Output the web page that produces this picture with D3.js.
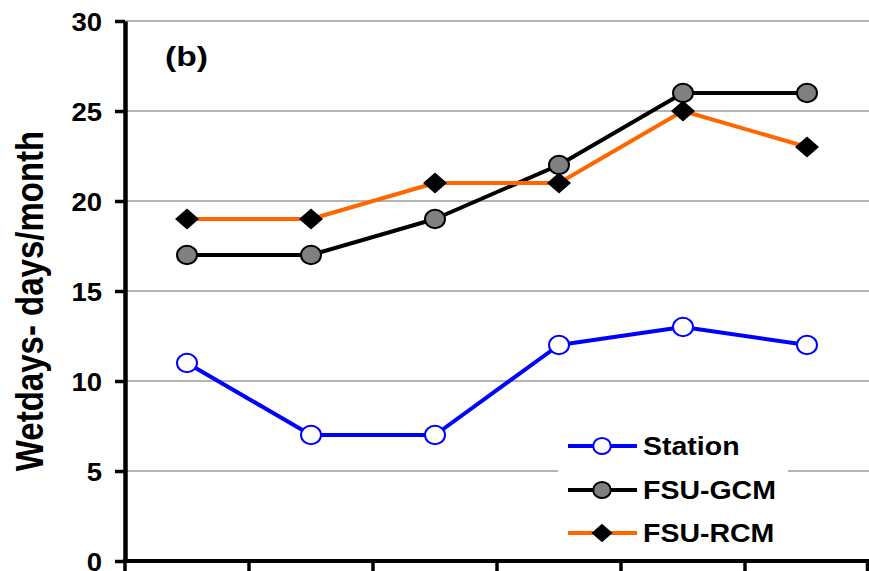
<!DOCTYPE html>
<html>
<head>
<meta charset="utf-8">
<script src="https://cdn.jsdelivr.net/npm/d3@7"></script>
<style>
  html, body { margin: 0; padding: 0; background: #fff; }
  svg { display: block; font-family: "Liberation Sans", Arial, sans-serif; }
</style>
</head>
<body>
<svg id="chart" width="869" height="571"></svg>
<script>
// Six periods along the x axis (unlabelled)
const periods = ["P1", "P2", "P3", "P4", "P5", "P6"];
const yTicks = [0, 5, 10, 15, 20, 25, 30];

const station = [11, 7, 7, 12, 13, 12];
const fsuGcm  = [17, 17, 19, 22, 26, 26];
const fsuRcm  = [19, 19, 21, 21, 25, 23];

const seriesNames = ["Station", "FSU-GCM", "FSU-RCM"];

const svg = d3.select("#chart");
const plotLeft = 125, plotRight = 869, plotTop = 21, plotBottom = 561;
const stretch = 1.1; // tick labels are drawn slightly wide

const x = d3.scaleBand().domain(periods).range([plotLeft, plotRight]);
const y = d3.scaleLinear().domain([0, 30]).range([plotBottom, plotTop]);

// horizontal gridlines
svg.append("g")
  .selectAll("line")
  .data(yTicks.filter(t => t > 0))
  .join("line")
  .attr("x1", plotLeft).attr("x2", plotRight)
  .attr("y1", d => y(d)).attr("y2", d => y(d))
  .attr("stroke", "#6a6a6a").attr("stroke-width", 1);

// legend background (sits over the gridline)
svg.append("rect")
  .attr("x", 558).attr("y", 425).attr("width", 230).attr("height", 130)
  .attr("fill", "#fff");

// y axis
const yAxis = d3.axisLeft(y).tickValues(yTicks).tickSize(10).tickSizeOuter(0);
const gy = svg.append("g").attr("transform", `translate(${plotLeft},0)`).call(yAxis);
gy.select(".domain").attr("stroke", "#000").attr("stroke-width", 4.5);
gy.selectAll(".tick line").attr("stroke", "#000").attr("stroke-width", 3.5);
gy.selectAll(".tick text")
  .attr("x", -23 / stretch)
  .attr("dy", "0.36em")
  .attr("transform", `scale(${stretch},1)`)
  .attr("font-size", 25).attr("font-weight", "bold").attr("fill", "#000")
  .attr("font-family", "Liberation Sans, Arial, sans-serif");

// x axis with tick marks at the category boundaries
const gx = svg.append("g");
gx.append("line")
  .attr("x1", plotLeft - 2).attr("x2", plotRight)
  .attr("y1", plotBottom).attr("y2", plotBottom)
  .attr("stroke", "#000").attr("stroke-width", 4);
const bounds = periods.map(p => x(p)).concat([x(periods[periods.length - 1]) + x.bandwidth()]);
gx.selectAll("line.xt")
  .data(bounds)
  .join("line").attr("class", "xt")
  .attr("x1", d => Math.min(d, plotRight - 1.5)).attr("x2", d => Math.min(d, plotRight - 1.5))
  .attr("y1", plotBottom).attr("y2", plotBottom + 10)
  .attr("stroke", "#000").attr("stroke-width", 3.5);

// y axis title
svg.append("text")
  .attr("transform", `translate(43,301) scale(1.17,1) rotate(-90)`)
  .attr("text-anchor", "middle")
  .attr("font-size", 33).attr("font-weight", "bold")
  .text("Wetdays- days/month");

// panel label
svg.append("text")
  .attr("transform", "translate(165,66) scale(1.2,1)")
  .attr("font-size", 28).attr("font-weight", "bold")
  .text("(b)");

const cx = i => x(periods[i]) + x.bandwidth() / 2;
const line = d3.line().x((d, i) => cx(i)).y(d => y(d));

const styles = [
  { data: station, line: "#0000ff", marker: "circle", fill: "#fff", stroke: "#0000ff" },
  { data: fsuGcm,  line: "#000000", marker: "circle", fill: "#808080", stroke: "#000" },
  { data: fsuRcm,  line: "#ff6600", marker: "diamond", fill: "#000", stroke: "#000" }
];

function drawMarker(g, s, px, py, k) {
  if (s.marker === "circle") {
    g.append("ellipse").attr("cx", px).attr("cy", py).attr("rx", 10 * k).attr("ry", 9.2 * k)
      .attr("fill", s.fill).attr("stroke", s.stroke).attr("stroke-width", 2);
  } else {
    const rx = 12 * k, ry = 10.5 * k;
    g.append("path")
      .attr("d", `M${px},${py - ry}L${px + rx},${py}L${px},${py + ry}L${px - rx},${py}Z`)
      .attr("fill", s.fill);
  }
}

// draw series: GCM first, then RCM, then station
[1, 2, 0].forEach(k => {
  const s = styles[k];
  const g = svg.append("g");
  g.append("path").datum(s.data).attr("d", line)
    .attr("fill", "none").attr("stroke", s.line).attr("stroke-width", 4)
    .attr("stroke-linejoin", "round");
  s.data.forEach((v, i) => drawMarker(g, s, cx(i), y(v), 1));
});

// legend
const legRows = [446, 490, 533];
styles.forEach((s, k) => {
  const g = svg.append("g");
  const ly = legRows[k];
  g.append("line").attr("x1", 568).attr("x2", 637).attr("y1", ly).attr("y2", ly)
    .attr("stroke", s.line).attr("stroke-width", 4);
  drawMarker(g, s, 602, ly, 0.88);
  g.append("text")
    .attr("transform", `translate(643,${ly + 8.5}) scale(1.14,1)`)
    .attr("font-size", 25).attr("font-weight", "bold")
    .text(seriesNames[k]);
});
</script>
</body>
</html>
